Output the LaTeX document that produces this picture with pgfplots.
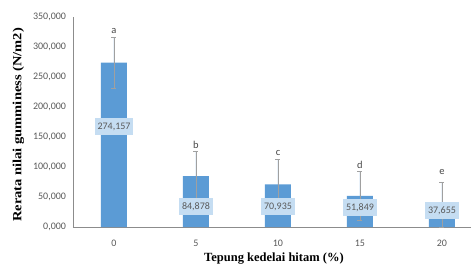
\documentclass[border=0pt]{standalone}
\usepackage{fontspec}
\setmainfont{Liberation Serif}
\newfontfamily\calfont{Carlito}
\usepackage{pgfplots}
\pgfplotsset{compat=1.18}
\definecolor{barblue}{HTML}{5B9BD5}
\definecolor{lblfill}{HTML}{C5DDF2}
\definecolor{txtgray}{HTML}{595959}
\definecolor{axgray}{HTML}{8C8C8C}
\definecolor{errgray}{HTML}{A0A0A0}
\tikzset{lbl/.style={fill=lblfill, text=txtgray, font=\calfont\fontsize{10}{12}\selectfont, inner xsep=3pt, minimum height=17pt},
  ltr/.style={text=txtgray!80!black, font=\calfont\fontsize{10.5}{12}\selectfont, inner sep=0pt}}
\begin{document}
\begin{tikzpicture}
\begin{axis}[
  at={(0,0)}, anchor=south west,
  scale only axis, width=398pt, height=210pt,
  xmin=-0.5, xmax=4.354, ymin=0, ymax=350000,
  scaled y ticks=false,
  axis lines=left,
  axis line style={-, draw=axgray, line width=0.6pt},
  ybar, bar width=26pt,
  xtick={0,1,2,3,4}, xticklabels={0,5,10,15,20},
  ytick={0,50000,100000,150000,200000,250000,300000,350000},
  yticklabels={{0,000},{50,000},{100,000},{150,000},{200,000},{250,000},{300,000},{350,000}},
  major tick length=0pt,
  tick label style={font=\calfont\fontsize{10}{12}\selectfont, text=txtgray},
  xticklabel style={anchor=center, yshift=-16pt},
  yticklabel style={xshift=-3.5pt},
  xlabel={\textbf{Tepung kedelai hitam (\%)}},
  ylabel={\scalebox{1.16}[1]{\textbf{Rerata nilai gumminess (N/m2)}}},
  label style={font=\fontsize{12.5}{14}\selectfont, text=black},
  xlabel style={at={(axis description cs:0.505,-0.152)}, anchor=center},
  ylabel style={at={(axis description cs:-0.137,0.486)}, anchor=center},
  clip=false,
]
\addplot[fill=barblue, draw=none,
  error bars/.cd, y dir=both, y explicit,
  error bar style={draw=errgray, line width=0.6pt},
  error mark options={rotate=90, mark size=2.5pt, draw=errgray, line width=0.6pt}]
  coordinates {
    (0,274157) +- (0,42500)
    (1,84878) +- (0,42000)
    (2,70935) +- (0,42000)
    (3,51849) +- (0,41000)
    (4,37655) +- (0,37655)
  };
\node[lbl] at (axis cs:0,167000) {274,157};
\node[lbl] at (axis cs:1,34000) {84,878};
\node[lbl] at (axis cs:2,34000) {70,935};
\node[lbl] at (axis cs:3,32000) {51,849};
\node[lbl] at (axis cs:4,27000) {37,655};
\node[ltr] at (axis cs:0,326000) {a};
\node[ltr] at (axis cs:1,137000) {b};
\node[ltr] at (axis cs:2,124000) {c};
\node[ltr] at (axis cs:3,104000) {d};
\node[ltr] at (axis cs:4,91000) {e};
\end{axis}
\pgfresetboundingbox
\path[use as bounding box] (-73pt,-38pt) rectangle (398pt,227pt);
\end{tikzpicture}
\end{document}
